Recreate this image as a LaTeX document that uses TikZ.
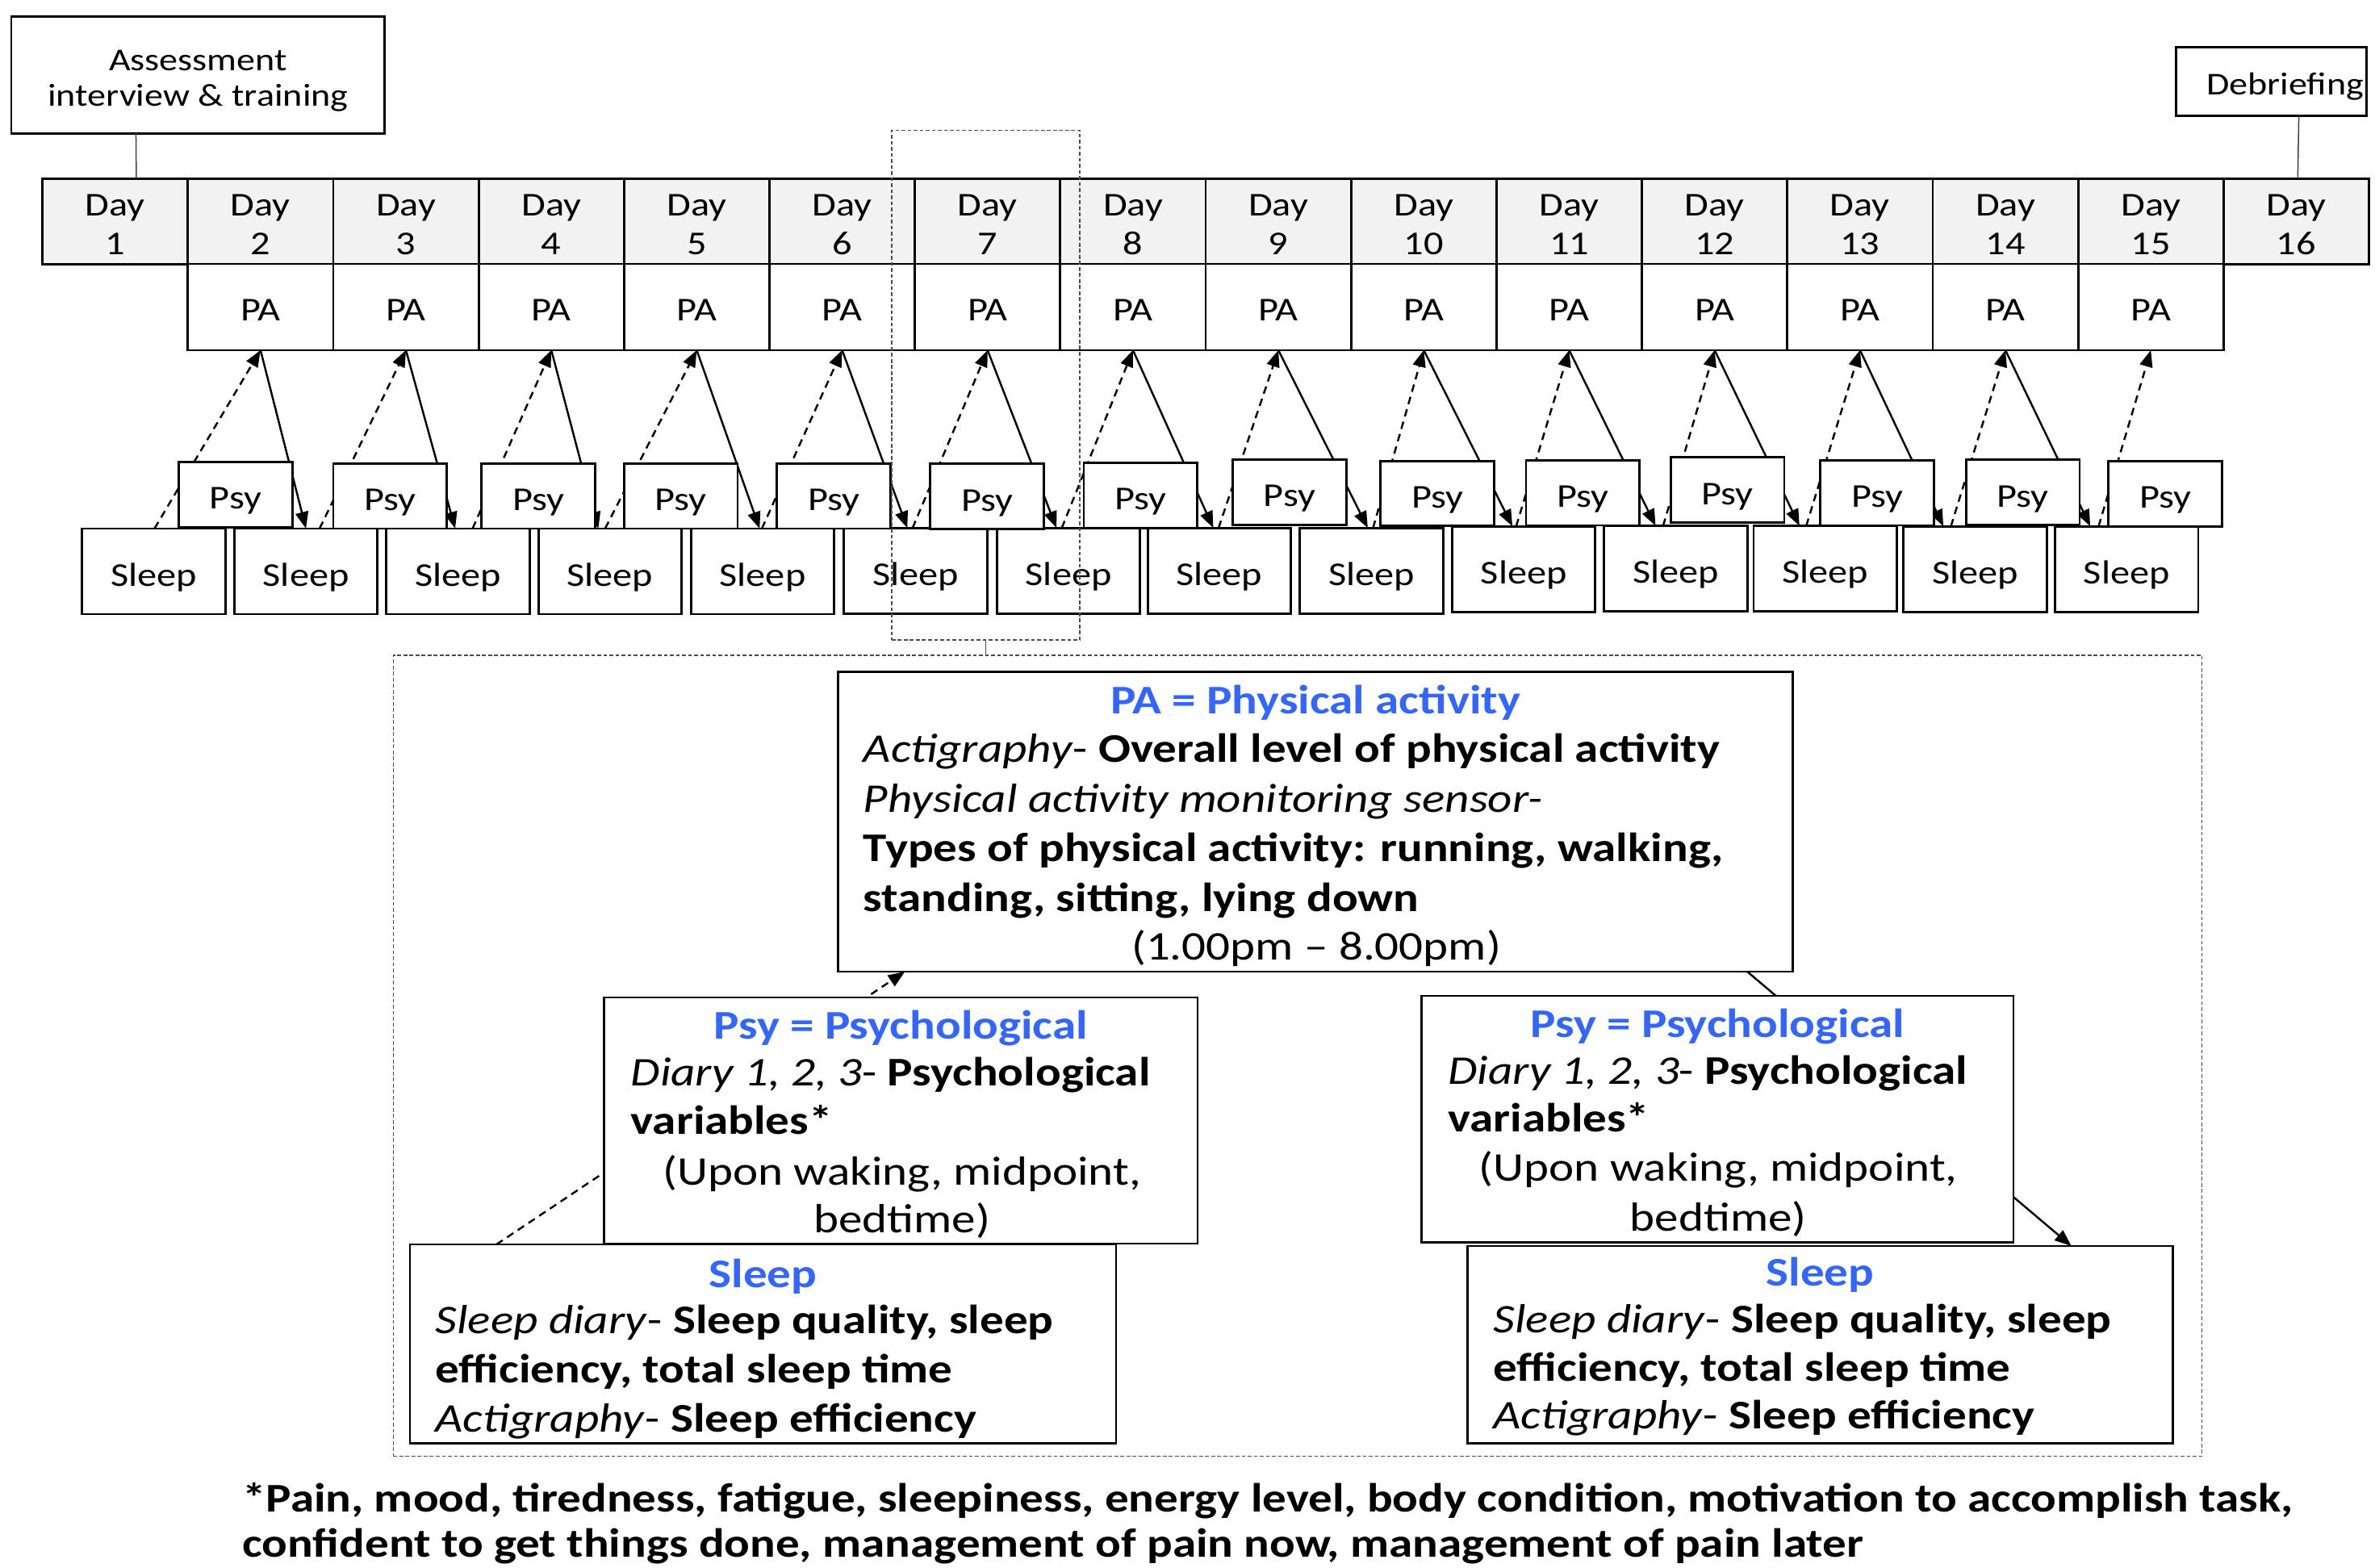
\documentclass[tikz,border=0pt]{standalone}
\usepackage{fontspec}
\setmainfont{Carlito}[FakeStretch=1.17]
\usetikzlibrary{arrows.meta,calc}
\definecolor{dayfill}{HTML}{F2F2F2}
\definecolor{titleblue}{RGB}{51,102,255}
\begin{document}
\begin{tikzpicture}[x=1pt,y=-1pt,
  box/.style={draw=black, line width=1.5pt, fill=white, inner sep=0pt, outer sep=0pt, align=center},
  small/.style={font=\fontsize{22}{26}\selectfont},
  daybox/.style={box, small, fill=dayfill, minimum width=96pt, minimum height=56.5pt, text height=44.4pt, text depth=0pt},
  pabox/.style={box, small, minimum width=96pt, minimum height=57pt, text height=18.6pt, text depth=0pt},
  psybox/.style={box, small, minimum width=75pt, minimum height=43pt, text height=19pt, text depth=0pt},
  sleepbox/.style={box, small, minimum width=94.5pt, minimum height=56.5pt, text height=19.6pt, text depth=0pt},
  txt/.style={inner sep=0pt, outer sep=0pt, font=\fontsize{26.9}{32.5}\selectfont},
  lefttxt/.style={txt, anchor=base west},
  midtxt/.style={txt, anchor=base},
  ttl/.style={txt, anchor=base, text=titleblue, font=\fontsize{26.9}{32.5}\selectfont\bfseries},
  solidarr/.style={line width=1.3pt, -{Triangle[length=11pt,width=8.5pt]}},
  dasharr/.style={solidarr, dash pattern=on 5pt off 3.5pt},
  thinline/.style={line width=0.8pt, draw=black!75},
  dotbox/.style={draw=black!70, line width=0.8pt, dash pattern=on 2.5pt off 1.5pt, inner sep=0pt, outer sep=0pt}
]
\useasboundingbox (0,0) rectangle (1568,1035);

% ---------- top labels ----------
\node[box, font=\fontsize{21}{23.5}\selectfont, minimum width=246.5pt, minimum height=77pt, text height=41pt, text depth=0pt] (asmt) at (130.75,49.5) {Assessment\\interview \& training};
\node[box, font=\fontsize{21}{23.5}\selectfont, minimum width=125.8pt, minimum height=45.3pt, text height=17.9pt, text depth=0pt] (deb) at (1499.7,53.65) {\hspace*{18pt}Debriefing};

% ---------- day row ----------
\foreach \i in {1,...,16}
  \node[daybox] (d\i) at ({76+96*(\i-1)},146.1) {Day\\\i};
\foreach \i in {2,...,15}
  \node[pabox] (pa\i) at ({76+96*(\i-1)},202.7) {PA};

\draw[thinline] ([xshift=-41pt]asmt.south) -- ([xshift=14pt]d1.north);
\draw[thinline] ([xshift=18pt]deb.south) -- ([xshift=1pt]d16.north);

% ---------- sleep row ----------
\foreach \j/\x/\y in {1/101.5/377.2, 2/202/377.2, 3/302.4/377.2, 4/402.7/377.2, 5/503.5/377.2,
  6/604.4/376.8, 7/705.5/376.8, 8/805/376.8, 9/905.5/376.8, 10/1006/375.7, 11/1106.3/375.4,
  12/1205/375.4, 13/1304/375.7, 14/1404/375.7}
  \node[sleepbox] (s\j) at (\x,\y) {Sleep};

\foreach \j/\ao/\do in {1/0/0.5, 2/0/9, 3/-1.9/9.6, 4/-7.7/-3.2, 5/-2/-0.5, 6/-5.4/-1.9,
  7/-8/-4.5, 8/-4/-0.5, 9/-2.5/1, 10/-7.5/-5, 11/-13.3/-8.3, 12/-17/-12.5, 13/-21/-16, 14/-24/-18.5} {
  \coordinate (a\j) at ([xshift=\ao pt]s\j.north);
  \coordinate (b\j) at ([xshift=\do pt]s\j.north);
}

% ---------- arrows ----------
\foreach \k in {2,...,15} {
  \pgfmathtruncatemacro{\p}{\k-1}
  \draw[dasharr] (b\p) -- (pa\k.south);
}
\foreach \k in {2,...,14}
  \draw[solidarr] (pa\k.south) -- (a\k);

% ---------- psy row ----------
\foreach \j/\x/\y in {1/155.5/326.5, 2/257.5/327.5, 3/355.5/327.5, 4/449.5/327.5, 5/550.5/327.5,
  6/651.7/327.8, 7/753/327, 8/851.4/325, 9/949/325.8, 10/1045/325.3, 11/1140.5/323.5,
  12/1239.3/325.3, 13/1335.5/325.1, 14/1429.5/326.1}
  \node[psybox] (p\j) at (\x,\y) {Psy};

% ---------- lower legend ----------
\node[dotbox, minimum width=1194.1pt, minimum height=528.9pt] (big) at (856.75,697) {};

\node[box, minimum width=630.2pt, minimum height=197.8pt] (painfo) at (868.5,542.6) {};
\node[box, minimum width=466.1pt, minimum height=131.1pt] (lsl) at (503.75,887.15) {};
\node[box, minimum width=465.5pt, minimum height=130.3pt] (rsl) at (1201.75,887.75) {};

\draw[dasharr] ([xshift=57pt]lsl.north west) -- ([xshift=44pt]painfo.south west);
\draw[solidarr] ([xshift=-30pt]painfo.south east) -- ([xshift=-67pt]rsl.north east);

\node[box, minimum width=391.8pt, minimum height=162.5pt] (lpsy) at (594.7,739.75) {};
\node[box, minimum width=390.7pt, minimum height=162.8pt] (rpsy) at (1133.95,738.9) {};

% PA info text
\node[ttl] (pat) at (868.5,471.5) {PA = Physical activity};
\node[lefttxt] (pa1) at (570,503) {\textit{Actigraphy}- \textbf{Overall level of physical activity}};
\node[lefttxt] (pa2) at (570,536) {\textit{Physical activity monitoring sensor-}};
\node[lefttxt] (pa3) at (570,569) {\textbf{Types of physical activity: running, walking,}};
\node[lefttxt] (pa4) at (570,602) {\textbf{standing, sitting, lying down}};
\node[midtxt] (pa5) at (869,634) {(1.00pm – 8.00pm)};

% left psy text
\node[ttl] (lpt) at (594.7,686) {Psy = Psychological};
\node[lefttxt] (lp1) at (416.5,717) {\textit{Diary 1, 2, 3}- \textbf{Psychological}};
\node[lefttxt] (lp2) at (416.5,749) {\textbf{variables*}};
\node[midtxt] (lp3) at (595.5,782.5) {(Upon waking, midpoint,};
\node[midtxt] (lp4) at (595.5,814) {bedtime)};

% right psy text
\node[ttl] (rpt) at (1134,685) {Psy = Psychological};
\node[lefttxt] (rp1) at (956,716) {\textit{Diary 1, 2, 3}- \textbf{Psychological}};
\node[lefttxt] (rp2) at (956,747) {\textbf{variables*}};
\node[midtxt] (rp3) at (1134.5,779.5) {(Upon waking, midpoint,};
\node[midtxt] (rp4) at (1134.5,812.5) {bedtime)};

% left sleep text
\node[ttl] (lst) at (503.7,850) {Sleep};
\node[lefttxt] (ls1) at (287.5,880.5) {\textit{Sleep diary}- \textbf{Sleep quality, sleep}};
\node[lefttxt] (ls2) at (287.5,913) {\textbf{efficiency, total sleep time}};
\node[lefttxt] (ls3) at (287.5,945.5) {\textit{Actigraphy}- \textbf{Sleep efficiency}};

% right sleep text
\node[ttl] (rst) at (1201.75,849) {Sleep};
\node[lefttxt] (rs1) at (986,880) {\textit{Sleep diary}- \textbf{Sleep quality, sleep}};
\node[lefttxt] (rs2) at (986,912) {\textbf{efficiency, total sleep time}};
\node[lefttxt] (rs3) at (986,943.5) {\textit{Actigraphy}- \textbf{Sleep efficiency}};

% footnote
\node[lefttxt, font=\fontsize{26.9}{32.5}\selectfont\bfseries] (fn1) at (160,998) {*Pain, mood, tiredness, fatigue, sleepiness, energy level, body condition, motivation to accomplish task,};
\node[lefttxt, font=\fontsize{26.9}{32.5}\selectfont\bfseries] (fn2) at (160,1028) {confident to get things done, management of pain now, management of pain later};

% ---------- day 7 highlight ----------
\node[dotbox, minimum width=124.2pt, minimum height=336.6pt] (zoomrect) at (650.8,254.3) {};
\draw[draw=black!70, line width=0.8pt] (zoomrect.south) -- (zoomrect.south |- big.north);
\end{tikzpicture}
\end{document}
